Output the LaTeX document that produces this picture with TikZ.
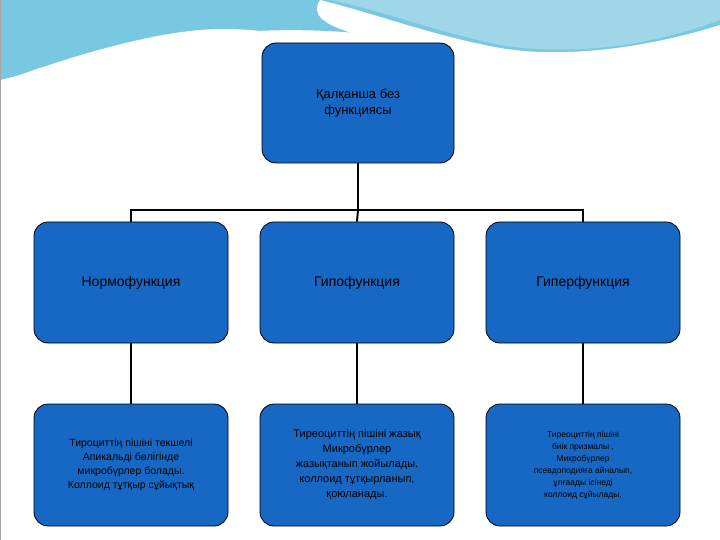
\documentclass[tikz,border=0pt]{standalone}
\usepackage{fontspec}
\setmainfont{Liberation Sans}
\begin{document}
\begin{tikzpicture}[x=1pt,y=-1pt,
 box/.style={draw=black,line width=0.8pt,fill=boxblue,rounded corners=14pt,align=center,text=black,inner sep=0pt},
 conn/.style={draw=black,line width=2pt}]
\definecolor{boxblue}{RGB}{22,104,196}
\definecolor{wave1}{RGB}{120,200,225}
\definecolor{wave2}{RGB}{160,215,232}
\useasboundingbox (0,0) rectangle (720,540);
\fill[white] (0,0) rectangle (720,540);
% top waves
\fill[wave1] (0,0) -- (720,0) -- (720,30) .. controls (640,70) and (560,70) .. (470,50) .. controls (380,30) and (260,20) .. (150,45) .. controls (90,58) and (40,70) .. (0,80) -- cycle;
\fill[wave2] (330,0) -- (720,0) -- (720,20) .. controls (640,50) and (560,55) .. (500,45) .. controls (430,30) and (380,10) .. (330,0) -- cycle;
\fill[white] (320,0) .. controls (380,15) and (430,35) .. (500,48) .. controls (560,58) and (640,50) .. (720,25) -- (720,35) .. controls (640,70) and (560,72) .. (470,58) .. controls (380,40) and (300,30) .. (320,0) -- cycle;
\fill[white] (0,82) .. controls (60,60) and (140,35) .. (200,30) .. controls (260,25) and (330,40) .. (380,60) -- (0,100) -- cycle;
\draw[gray!70,line width=1pt] (0,0) rectangle (720,540);
\node[box,minimum width=192pt,minimum height=120pt,font=\fontsize{13}{16}\selectfont] (top) at (358,103) {Қалқанша без\\функциясы};
\node[box,minimum width=194pt,minimum height=121pt,font=\fontsize{14}{17}\selectfont] (n) at (131,282.5) {Нормофункция};
\node[box,minimum width=194pt,minimum height=121pt,font=\fontsize{14}{17}\selectfont] (h) at (357,282.5) {Гипофункция};
\node[box,minimum width=194pt,minimum height=121pt,font=\fontsize{14}{17}\selectfont] (g) at (583,282.5) {Гиперфункция};
\node[box,minimum width=194pt,minimum height=122pt,font=\fontsize{10.5}{14}\selectfont] (n2) at (131,465) {Тироциттің пішіні текшелі\\Апикальді бөлігінде\\микробүрлер болады.\\Коллоид тұтқыр сұйықтық};
\node[box,minimum width=194pt,minimum height=122pt,font=\fontsize{11}{15}\selectfont] (h2) at (357,465) {Тиреоциттің пішіні жазық\\Микробүрлер\\жазықтанып жойылады.\\коллоид тұтқырланып,\\қоюланады.};
\node[box,minimum width=194pt,minimum height=122pt,font=\fontsize{8.5}{12}\selectfont] (g2) at (583,465) {Тиреоциттің пішіні\\биік призмалы ,\\Микробүрлер\\псевдоподияға айналып,\\ұлғаады ісінеді\\коллоид сұйылады.};
\coordinate (j) at (358,210);
\draw[conn] (top.south) -- (j);
\draw[conn] (n.north) -- (131,210) -- (583,210) -- (g.north);
\draw[conn] (j) -- (h.north);
\draw[conn] (n.south) -- (n2.north);
\draw[conn] (h.south) -- (h2.north);
\draw[conn] (g.south) -- (g2.north);
\end{tikzpicture}
\end{document}
